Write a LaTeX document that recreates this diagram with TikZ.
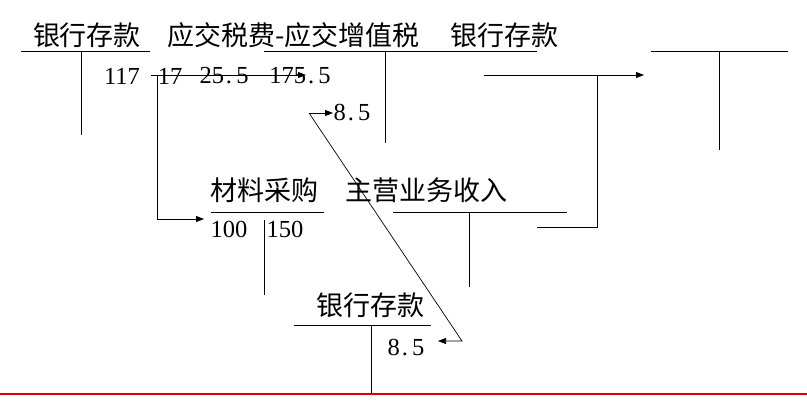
\documentclass[tikz,border=0pt]{standalone}
\usepackage{fontspec}
\setmainfont{Liberation Serif}
\newfontfamily\cjk{Noto Sans CJK SC}
\usetikzlibrary{arrows.meta}
\newcommand{\wdot}{\makebox[0.5em][l]{\hspace{0.08em}.}}
\tikzset{
  cn/.style={font=\cjk\fontsize{27}{29}\selectfont, inner sep=0pt, anchor=center},
  num/.style={font=\fontsize{24.5}{26}\selectfont, inner sep=0pt, anchor=center},
  tline/.style={line width=1pt, black},
  conn/.style={line width=0.9pt, black},
  arr/.style={conn, -{Triangle[length=8pt,width=6pt]}},
}
\begin{document}
\begin{tikzpicture}[x=1pt,y=-1pt]
\useasboundingbox (0,0) rectangle (807,404);
\fill[white] (0,0) rectangle (807,404);
% titles
\node[cn] (t1) at (87,35) {银行存款};
\node[cn, anchor=west] (t2) at (167,35) {应交税费-应交增值税};
\node[cn] (t3) at (504,35) {银行存款};
\node[cn] (t4) at (264,190) {材料采购};
\node[cn] (t5) at (426,190) {主营业务收入};
\node[cn] (t6) at (370,305) {银行存款};
% numbers
\node[num] (n117) at (122,76) {117};
\node[num] (n17) at (170,76) {17};
\node[num] (n25) at (224,76) {25\wdot 5};
\node[num] (n175) at (300,76) {175\wdot 5};
\node[num] (n85a) at (352,113) {8\wdot 5};
\node[num] (n100) at (229,229) {100};
\node[num] (n150) at (285,229) {150};
\node[num] (n85b) at (406,348) {8\wdot 5};
% T accounts
\draw[tline] (21,52) -- (150,52) (81,52) -- (81,135);
\draw[tline] (264,52) -- (537,52) (385,52) -- (385,143);
\draw[tline] (651,52) -- (788,52) (719,52) -- (719,150);
\draw[tline] (211,212) -- (324,212) (264,220) -- (264,295);
\draw[tline] (393,212) -- (567,212) (469,212) -- (469,287);
\draw[tline] (294,325) -- (431,325) (371,325) -- (371,394);
% connector coordinates
\coordinate (a1s) at (151,75);
\coordinate (a1e) at (306,75);
\coordinate (a2s) at (157,75);
\coordinate (a2m) at (157,219);
\coordinate (a2e) at (204,219);
\coordinate (a3s) at (309,113);
\coordinate (a3e) at (333,113);
\coordinate (a4m) at (462,341);
\coordinate (a4e) at (438,341);
\coordinate (a5s) at (484,75);
\coordinate (a5e) at (644,75);
\coordinate (a6s) at (537,227);
\coordinate (a6m) at (597,227);
\coordinate (a6e) at (597,75);
% connectors
\draw[arr] (a1s) -- (a1e);
\draw[arr] (a2s) -- (a2m) -- (a2e);
\draw[arr] (a3s) -- (a3e);
\draw[arr, line width=0.7pt] (a3s) -- (a4m) -- (a4e);
\draw[arr] (a5s) -- (a5e);
\draw[conn] (a6s) -- (a6m) -- (a6e);
% red bottom line
\draw[line width=1.2pt, color={rgb,255:red,220;green,0;blue,0}] (0,394) -- (807,394);
\end{tikzpicture}
\end{document}
